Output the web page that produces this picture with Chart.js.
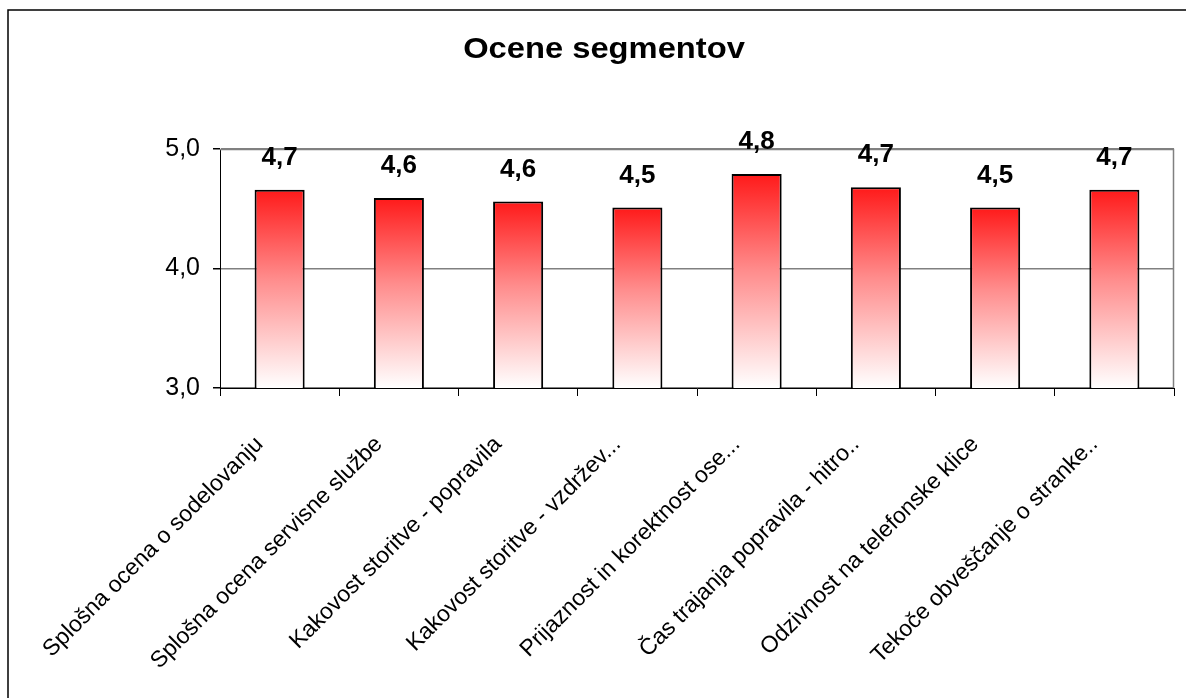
<!DOCTYPE html>
<html>
<head>
<meta charset="utf-8">
<script src="https://cdn.jsdelivr.net/npm/chart.js@4/dist/chart.umd.min.js"></script>
<style>
  html, body { margin: 0; padding: 0; background: #fff; }
  canvas { display: block; }
</style>
</head>
<body>
<canvas id="chart" width="1186" height="698"></canvas>
<script>
// Chart data
const chartTitle = 'Ocene segmentov';
const categories = [
  'Splošna ocena o sodelovanju',
  'Splošna ocena servisne službe',
  'Kakovost storitve - popravila',
  'Kakovost storitve - vzdržev...',
  'Prijaznost in korektnost ose...',
  'Čas trajanja popravila - hitro..',
  'Odzivnost na telefonske klice',
  'Tekoče obveščanje o stranke..'
];
const scores = [4.66, 4.59, 4.56, 4.51, 4.79, 4.68, 4.51, 4.66];
const yTickValues = [3, 4, 5];

const FONT = '"Liberation Sans", Arial, Helvetica, sans-serif';
const fmt = v => v.toFixed(1).replace('.', ',');

// Red-to-white vertical gradient spanning each bar
function barGradient(context) {
  const chart = context.chart;
  const yScale = chart.scales.y;
  if (!chart.chartArea || !yScale || context.type !== 'data') return '#ff2020';
  const top = yScale.getPixelForValue(context.raw);
  const base = yScale.getPixelForValue(yScale.min);
  const g = chart.ctx.createLinearGradient(0, top, 0, base);
  g.addColorStop(0, '#ff1a1a');
  g.addColorStop(0.45, '#ff8c8c');
  g.addColorStop(1, '#ffffff');
  return g;
}

// Outer frame, title, plot-area edge and value labels
const decorations = {
  id: 'decorations',
  beforeDraw(chart) {
    const c = chart.ctx;
    c.save();
    c.fillStyle = '#fff';
    c.fillRect(0, 0, chart.width, chart.height);
    c.strokeStyle = '#000';
    c.lineWidth = 1.5;
    c.strokeRect(8, 10, chart.width + 20, chart.height + 20);
    c.fillStyle = '#000';
    c.font = 'bold 30px ' + FONT;
    c.textAlign = 'center';
    c.textBaseline = 'middle';
    c.translate(604, 50);
    c.scale(1.09, 1);
    c.fillText(chartTitle, 0, 0);
    c.restore();
  },
  beforeDatasetsDraw(chart) {
    const { ctx: c, chartArea: a } = chart;
    c.save();
    c.strokeStyle = '#808080';
    c.lineWidth = 1.5;
    c.beginPath();
    c.moveTo(a.left, a.top + 0.5);
    c.lineTo(a.right - 0.5, a.top + 0.5);
    c.lineTo(a.right - 0.5, a.bottom);
    c.stroke();
    c.restore();
  },
  afterDatasetsDraw(chart) {
    const c = chart.ctx;
    const meta = chart.getDatasetMeta(0);
    c.save();
    c.fillStyle = '#000';
    c.font = 'bold 26px ' + FONT;
    c.textAlign = 'center';
    c.textBaseline = 'alphabetic';
    meta.data.forEach((bar, i) => {
      c.fillText(fmt(scores[i]), bar.x, bar.y - 25);
    });
    c.restore();
  }
};

new Chart(document.getElementById('chart'), {
  type: 'bar',
  data: {
    labels: categories,
    datasets: [{
      data: scores,
      backgroundColor: barGradient,
      borderColor: '#000',
      borderWidth: 2,
      borderSkipped: false,
      barPercentage: 0.42,
      categoryPercentage: 1
    }]
  },
  options: {
    responsive: false,
    animation: false,
    layout: { padding: { top: 149, right: 12, left: 0, bottom: 0 } },
    plugins: {
      legend: { display: false },
      title: { display: false },
      tooltip: { enabled: false }
    },
    scales: {
      x: {
        afterFit(scale) { scale.height = 310; },
        grid: {
          display: true,
          drawOnChartArea: false,
          offset: true,
          tickLength: 8,
          tickColor: '#000',
          color: '#000'
        },
        border: { color: '#000', width: 1 },
        ticks: {
          autoSkip: false,
          minRotation: 45,
          maxRotation: 45,
          padding: 35,
          labelOffset: -20,
          color: '#000',
          font: { family: FONT, size: 23 }
        }
      },
      y: {
        min: 3,
        max: 5,
        afterFit(scale) { scale.width = 220; },
        afterBuildTicks(scale) { scale.ticks = yTickValues.map(v => ({ value: v })); },
        grid: {
          color: '#808080',
          lineWidth: 1.5,
          tickLength: 7,
          tickColor: '#000'
        },
        border: { color: '#000', width: 1 },
        ticks: {
          padding: 13,
          color: '#000',
          font: { family: FONT, size: 25 },
          callback: v => fmt(v)
        }
      }
    }
  },
  plugins: [decorations]
});
</script>
</body>
</html>
